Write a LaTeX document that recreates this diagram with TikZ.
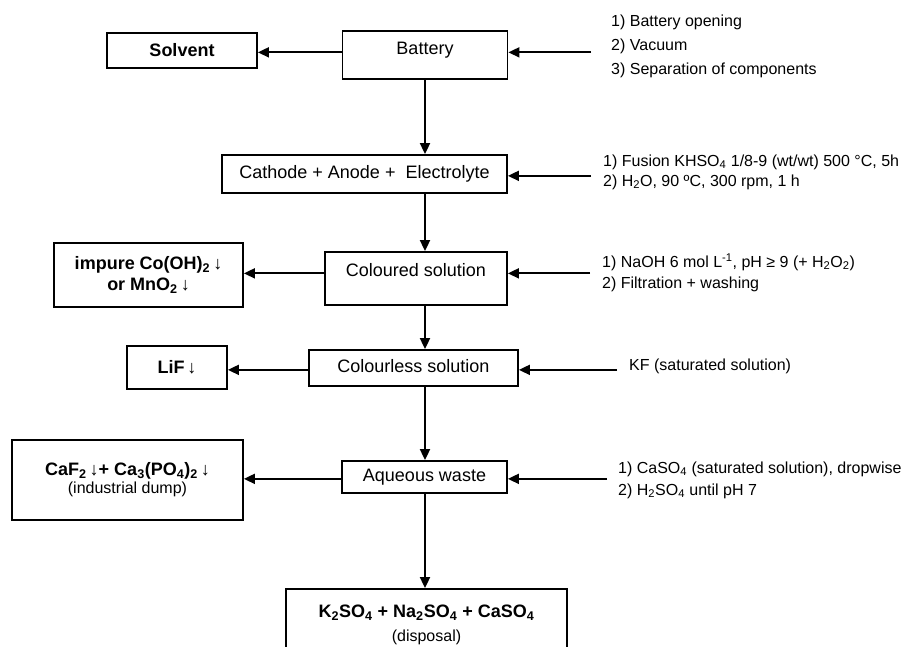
\documentclass[tikz,border=0pt]{standalone}
\usepackage{fontspec}
\setmainfont{Liberation Sans}
\usetikzlibrary{arrows.meta}
\tikzset{
    stage/.style={draw, line width=1.8pt, inner sep=0pt, font=\fontsize{18}{22}\selectfont, text height=13pt, text depth=4pt},
    product/.style={draw, line width=1.8pt, inner sep=0pt, align=center, font=\fontsize{18}{21}\selectfont\bfseries},
    steps/.style={anchor=west, align=left, inner xsep=12pt, inner ysep=0pt, font=\fontsize{16}{20}\selectfont},
    flow/.style={line width=1.8pt, -{Triangle[length=11pt,width=10pt]}}
}
\def\down{{\mdseries\,\char"2193}}

\begin{document}
\begin{tikzpicture}[x=1pt, y=-1pt]
            \useasboundingbox (0,0) rectangle (907,647);
            \clip (0,0) rectangle (907,647);
            % main line
            \node[stage, minimum width=165pt, minimum height=48pt, text depth=13pt] (battery) at (425,55) {Battery};
            \node[stage, minimum width=285pt, minimum height=38pt] (cathode) at (364.5,174) {Cathode + Anode +~ Electrolyte};
            \node[stage, minimum width=182pt, minimum height=53pt, text depth=18pt] (coloured) at (416,278.5) {Coloured solution};
            \node[stage, minimum width=209pt, minimum height=36pt] (colourless) at (413.5,368) {Colourless solution};
            \node[stage, minimum width=165pt, minimum height=32pt] (aqueous) at (424.5,477) {Aqueous waste};
            \node[product, minimum width=281pt, minimum height=72pt, font=\fontsize{18}{24}\selectfont\bfseries] (disposal) at (426.5,625)
                {K\textsubscript{2}SO\textsubscript{4} + Na\textsubscript{2}SO\textsubscript{4} + CaSO\textsubscript{4}\\{\mdseries\fontsize{16}{24}\selectfont (disposal)}};
            % products on the left
            \node[product, minimum width=150pt, minimum height=35pt] (solvent) at (182,50.5) {Solvent};
            \node[product, minimum width=189pt, minimum height=64pt] (impure) at (148.5,275) {impure Co(OH)\textsubscript{2}\down\\or MnO\textsubscript{2}\down};
            \node[product, minimum width=100pt, minimum height=43pt] (lif) at (177,367.5) {LiF\down};
            \node[product, minimum width=231pt, minimum height=80pt, font=\fontsize{18}{18}\selectfont\bfseries] (deposit) at (127.5,480)
                {CaF\textsubscript{2}\down+ Ca\textsubscript{3}(PO\textsubscript{4})\textsubscript{2}\down\\{\mdseries\fontsize{16}{18}\selectfont (industrial dump)}};
            % treatment steps on the right
            \node[steps, inner xsep=20pt, font=\fontsize{16}{24}\selectfont] (steps1) at (591,46) {1) Battery opening\\2) Vacuum\\3) Separation of components};
            \node[steps] (steps2) at (591,172) {1) Fusion KHSO\textsubscript{4} 1/8-9 (wt/wt) 500 °C, 5h\\2) H\textsubscript{2}O, 90 ºC, 300 rpm, 1 h};
            \node[steps, font=\fontsize{16}{21}\selectfont] (steps3) at (590,272.5) {1) NaOH 6 mol L\textsuperscript{-1}, pH ≥ 9 (+ H\textsubscript{2}O\textsubscript{2})\\2) Filtration + washing};
            \node[steps] (steps4) at (617,366) {KF (saturated solution)};
            \node[steps, inner xsep=11pt, font=\fontsize{16}{22}\selectfont] (steps5) at (607,480) {1) CaSO\textsubscript{4} (saturated solution), dropwise\\2) H\textsubscript{2}SO\textsubscript{4} until pH 7};
            % arrows down
            \draw[flow] (battery.south) -- (battery.south |- cathode.north);
            \draw[flow] (cathode.south -| battery) -- (battery |- coloured.north);
            \draw[flow] (coloured.south -| battery) -- (battery |- colourless.north);
            \draw[flow] (colourless.south -| battery) -- (battery |- aqueous.north);
            \draw[flow] (aqueous.south -| battery) -- (battery |- disposal.north);
            % arrows in
            \draw[flow] (steps1.west |- battery.mid east) -- (battery.mid east);
            \draw[flow] (steps2.west |- cathode.mid east) -- (cathode.mid east);
            \draw[flow] (steps3.west |- coloured.mid east) -- (coloured.mid east);
            \draw[flow] (steps4.west |- colourless.mid east) -- (colourless.mid east);
            \draw[flow] (steps5.west |- aqueous.mid east) -- (aqueous.mid east);
            % arrows out
            \draw[flow] (battery.mid west) -- (solvent.east |- battery.mid west);
            \draw[flow] (coloured.mid west) -- (impure.east |- coloured.mid west);
            \draw[flow] (colourless.mid west) -- (lif.east |- colourless.mid west);
            \draw[flow] (aqueous.mid west) -- (deposit.east |- aqueous.mid west);
\end{tikzpicture}
\end{document}
